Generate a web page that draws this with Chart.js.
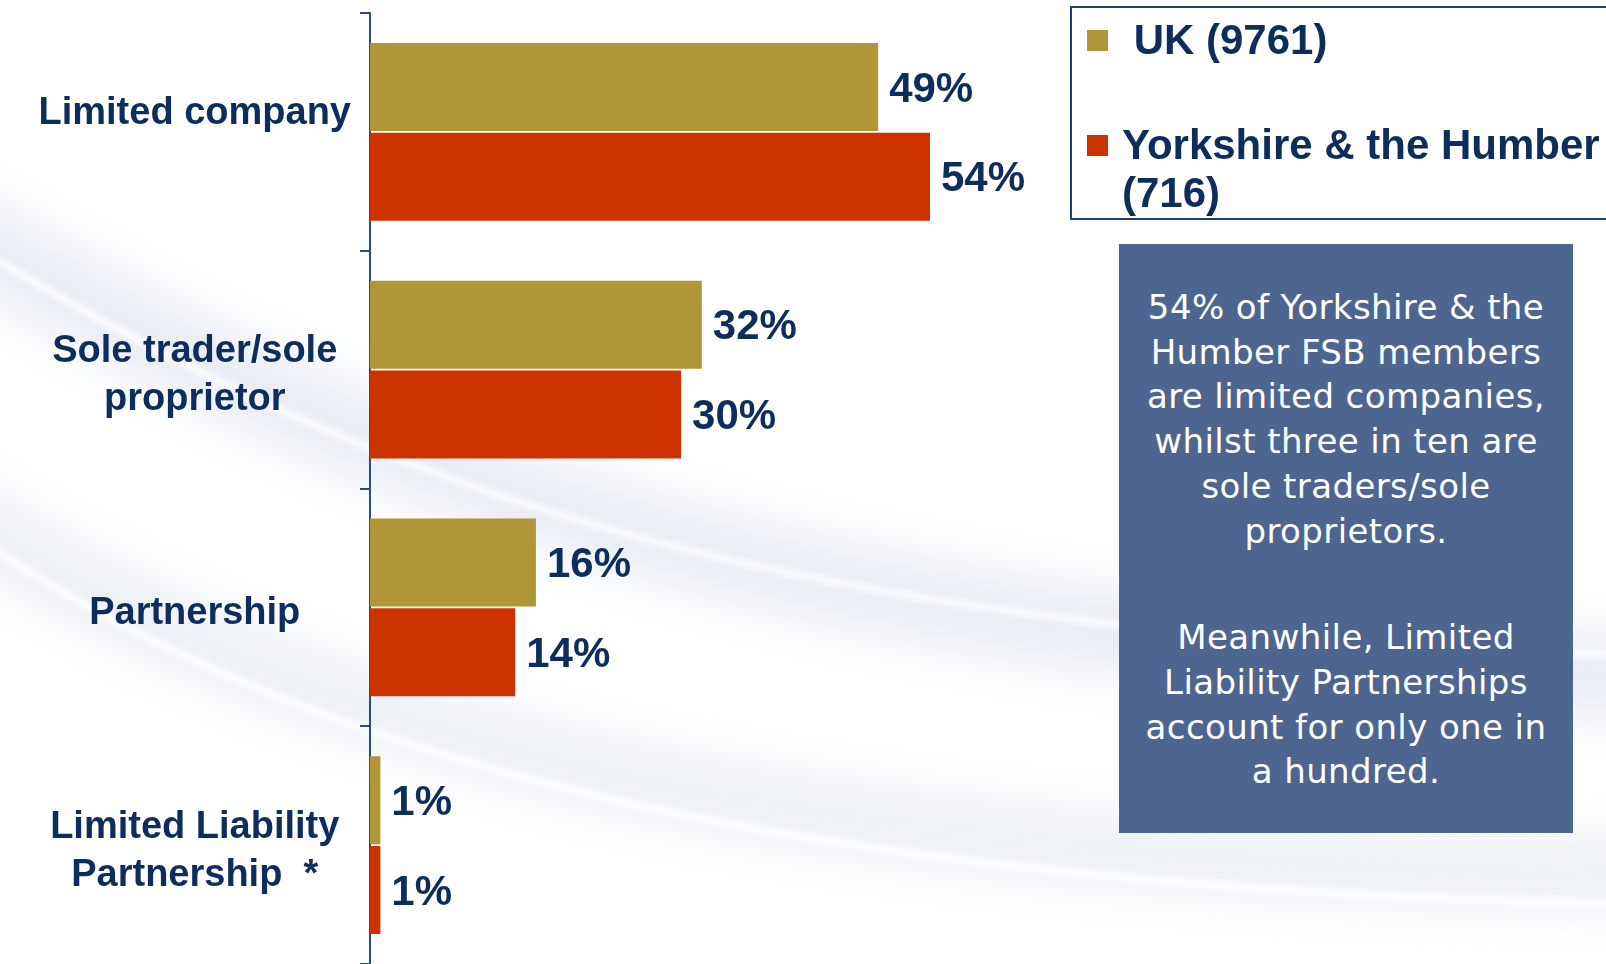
<!DOCTYPE html>
<html>
<head>
<meta charset="utf-8">
<script src="https://cdn.jsdelivr.net/npm/chart.js@4.4.1/dist/chart.umd.min.js"></script>
<style>
  html, body { margin: 0; padding: 0; overflow: hidden; background: #fff; }
  #wrap { position: relative; width: 1606px; height: 964px; }
  #note {
    position: absolute; left: 1119px; top: 244px; width: 454px; height: 589px;
    background: #4c6690; color: #fff; text-align: center; white-space: nowrap;
    font-family: "DejaVu Sans", Verdana, sans-serif; font-size: 34px; letter-spacing: 0.4px;
    line-height: 44.7px; box-sizing: border-box; padding-top: 41px;
  }
  #note p { margin: 0; }
  #note p + p { margin-top: 62px; }
</style>
</head>
<body>
<div id="wrap">
  <canvas id="typeChart" width="1606" height="964"></canvas>
  <div id="note">
    <p>54% of Yorkshire &amp; the<br>Humber FSB members<br>are limited companies,<br>whilst three in ten are<br>sole traders/sole<br>proprietors.</p>
    <p>Meanwhile, Limited<br>Liability Partnerships<br>account for only one in<br>a hundred.</p>
  </div>
</div>
<script>
const businessTypes = [
  ['Limited company', ''],
  ['Sole trader/sole', 'proprietor'],
  'Partnership',
  ['Limited Liability', 'Partnership  *']
];
const seriesNames = [' UK (9761)', 'Yorkshire & the Humber (716)'];
const ukValues = [49, 32, 16, 1];
const yorkshireValues = [54, 30, 14, 1];

const navy = '#0d2d5c';
const gold = '#b09539';
const red = '#cc3300';

// soft grey-blue swooshes behind everything
const backdrop = {
  id: 'backdrop',
  beforeDraw(chart) {
    const ctx = chart.ctx;
    ctx.save();
    ctx.fillStyle = '#fff';
    ctx.fillRect(0, 0, chart.width, chart.height);

    ctx.filter = 'blur(26px)';
    ctx.lineCap = 'round';
    ctx.strokeStyle = 'rgba(200, 210, 228, 0.45)';
    ctx.lineWidth = 80;
    ctx.beginPath();
    ctx.moveTo(-60, 220);
    ctx.bezierCurveTo(330, 450, 760, 650, 1700, 680);
    ctx.stroke();
    ctx.strokeStyle = 'rgba(205, 214, 230, 0.4)';
    ctx.lineWidth = 70;
    ctx.beginPath();
    ctx.moveTo(-60, 500);
    ctx.bezierCurveTo(300, 740, 800, 870, 1700, 875);
    ctx.stroke();

    ctx.filter = 'blur(3px)';
    ctx.strokeStyle = 'rgba(255, 255, 255, 0.95)';
    ctx.lineWidth = 7;
    ctx.beginPath();
    ctx.moveTo(-20, 250);
    ctx.bezierCurveTo(360, 480, 780, 650, 1700, 655);
    ctx.stroke();
    ctx.beginPath();
    ctx.moveTo(-20, 540);
    ctx.bezierCurveTo(320, 770, 820, 895, 1700, 905);
    ctx.stroke();
    ctx.restore();
  }
};

// percentage at the end of each bar
const valueLabels = {
  id: 'valueLabels',
  afterDatasetsDraw(chart) {
    const ctx = chart.ctx;
    ctx.save();
    ctx.font = 'bold 42px "Liberation Sans", Arial, sans-serif';
    ctx.fillStyle = navy;
    ctx.textAlign = 'left';
    ctx.textBaseline = 'middle';
    chart.data.datasets.forEach((ds, i) => {
      chart.getDatasetMeta(i).data.forEach((bar, j) => {
        ctx.fillText(ds.data[j] + '%', bar.x + 11, bar.y + 3);
      });
    });
    ctx.restore();
  }
};

// boxed legend in the top right corner
const boxLegend = {
  id: 'boxLegend',
  afterDraw(chart) {
    const ctx = chart.ctx;
    const textX = 1122, maxW = 490, lineH = 48;
    ctx.save();
    ctx.fillStyle = '#fff';
    ctx.fillRect(1071, 7, 600, 212);
    ctx.strokeStyle = '#1f3f6e';
    ctx.lineWidth = 2;
    ctx.strokeRect(1071, 7, 600, 212);

    ctx.font = 'bold 42px "Liberation Sans", Arial, sans-serif';
    ctx.textBaseline = 'middle';
    let y = 40;
    chart.data.datasets.forEach(ds => {
      ctx.fillStyle = ds.backgroundColor;
      ctx.fillRect(1087, y - 10, 21, 21);
      // wrap the label by words, keeping any leading space
      const words = ds.label.split(' ');
      const lines = [];
      let cur = words[0];
      words.slice(1).forEach(w => {
        const test = cur + ' ' + w;
        if (ctx.measureText(test).width > maxW && cur.trim()) {
          lines.push(cur);
          cur = w;
        } else {
          cur = test;
        }
      });
      lines.push(cur);
      ctx.fillStyle = navy;
      lines.forEach((ln, k) => ctx.fillText(ln, textX, y + 2 + k * lineH));
      y += 105;
    });
    ctx.restore();
  }
};

new Chart(document.getElementById('typeChart'), {
  type: 'bar',
  data: {
    labels: businessTypes,
    datasets: [
      { label: seriesNames[0], data: ukValues, backgroundColor: gold },
      { label: seriesNames[1], data: yorkshireValues, backgroundColor: red }
    ]
  },
  options: {
    indexAxis: 'y',
    responsive: false,
    animation: false,
    events: [],
    categoryPercentage: 0.755,
    barPercentage: 0.98,
    layout: { padding: { top: 13, right: 199, bottom: 0, left: 0 } },
    scales: {
      x: { display: false, min: 0, max: 100 },
      y: {
        grid: { drawOnChartArea: false, color: '#2b4c7e', lineWidth: 2, tickLength: 10 },
        border: { color: '#2b4c7e', width: 2 },
        ticks: {
          color: navy,
          crossAlign: 'center',
          padding: 9,
          labelOffset: 6,
          font: { family: '"Liberation Sans", Arial, sans-serif', size: 38, weight: 'bold', lineHeight: 1.26 }
        },
        afterFit(scale) {
          scale.width = 370;
          scale.paddingTop = 0;
          scale.paddingBottom = 0;
        }
      }
    },
    plugins: {
      legend: { display: false },
      tooltip: { enabled: false }
    }
  },
  plugins: [backdrop, valueLabels, boxLegend]
});
</script>
</body>
</html>
